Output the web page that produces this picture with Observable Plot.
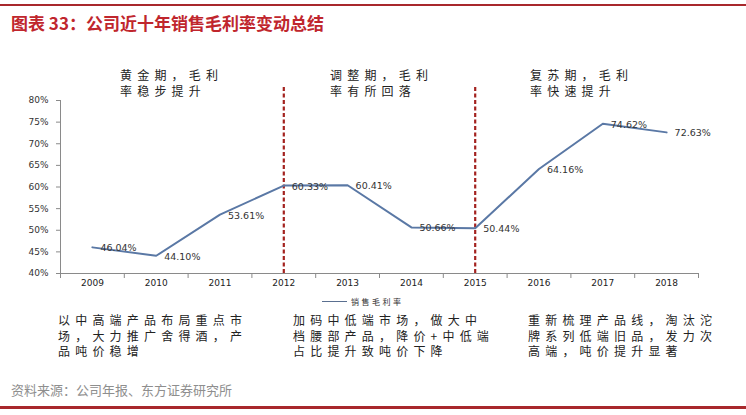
<!DOCTYPE html>
<html>
<head>
<meta charset="utf-8">
<script src="https://cdn.jsdelivr.net/npm/d3@7"></script>
<script src="https://cdn.jsdelivr.net/npm/@observablehq/plot@0.6"></script>
<style>
  html, body { margin: 0; padding: 0; background: #fff; }
  #page { position: relative; width: 746px; height: 415px; background: #fff; overflow: hidden; font-family: "Noto Sans CJK SC", "Noto Sans", sans-serif; }
  .hline { position: absolute; left: 0; width: 746px; background: #a8282c; }
  #title { position: absolute; left: 11px; top: 11px; font-size: 17px; font-weight: bold; color: #c0262d; line-height: 24px; white-space: nowrap; }
  #chart { position: absolute; left: 0; top: 60px; }
  .note { position: absolute; font-size: 12px; letter-spacing: 5.2px; line-height: 15.5px; color: #222; white-space: pre; }
  .period { position: absolute; font-size: 12px; letter-spacing: 5.2px; line-height: 16px; color: #222; white-space: pre; }
  #legend { position: absolute; left: 322px; top: 296px; font-size: 8px; letter-spacing: 2.5px; color: #333; display: flex; align-items: center; white-space: nowrap; }
  #legend .sw { display: inline-block; width: 25px; height: 1.5px; background: #5a6f90; margin-right: 4px; }
  #source { position: absolute; left: 11px; top: 381px; font-size: 13px; color: #8e8e8e; white-space: nowrap; line-height: 18px; }
</style>
</head>
<body>
<div id="page">
  <div class="hline" style="top:4px;height:2px;"></div>
  <div id="title"></div>
  <div id="chart"></div>
  <div id="legend"><span class="sw"></span><span id="legendText"></span></div>
  <div id="source"></div>
  <div class="hline" style="top:406px;height:3px;"></div>
</div>
<script>
const titleText = "图表 33：公司近十年销售毛利率变动总结";
const sourceText = "资料来源：公司年报、东方证券研究所";
const seriesName = "销售毛利率";

const years = [2009, 2010, 2011, 2012, 2013, 2014, 2015, 2016, 2017, 2018];
const grossMargin = [0.4604, 0.4410, 0.5361, 0.6033, 0.6041, 0.5066, 0.5044, 0.6416, 0.7462, 0.7263];
const marginLabels = ["46.04%", "44.10%", "53.61%", "60.33%", "60.41%", "50.66%", "50.44%", "64.16%", "74.62%", "72.63%"];
const yTicks = [0.40, 0.45, 0.50, 0.55, 0.60, 0.65, 0.70, 0.75, 0.80];
const dividerYears = [2012, 2015];

const periodTitles = ["黄金期，毛利\n率稳步提升", "调整期，毛利\n率有所回落", "复苏期，毛利\n率快速提升"];
const periodNotes = [
  "以中高端产品布局重点市\n场，大力推广舍得酒，产\n品吨价稳增",
  "加码中低端市场，做大中\n档腰部产品，降价+中低端\n占比提升致吨价下降",
  "重新梳理产品线，淘汰沱\n牌系列低端旧品，发力次\n高端，吨价提升显著"
];

document.getElementById("title").textContent = titleText;
document.getElementById("source").textContent = sourceText;
document.getElementById("legendText").textContent = seriesName;

const data = years.map((y, i) => ({year: y, rate: grossMargin[i], label: marginLabels[i]}));
const boundaries = years.map(y => y - 0.5).concat([years[years.length - 1] + 0.5]);
const xDomain = [boundaries[0], boundaries[boundaries.length - 1]];

const plot = Plot.plot({
  width: 746,
  height: 240,
  marginLeft: 60,
  marginRight: 48,
  marginTop: 40,
  marginBottom: 27,
  style: {fontFamily: "DejaVu Sans, sans-serif", fontSize: "9px", color: "#333", background: "transparent", overflow: "visible"},
  x: {type: "linear", domain: xDomain},
  y: {domain: [0.4, 0.8]},
  marks: [
    Plot.ruleY([0.4], {stroke: "#8a8a8a", strokeWidth: 1}),
    Plot.ruleX([xDomain[0]], {y1: 0.4, y2: 0.8, stroke: "#8a8a8a", strokeWidth: 1}),
    Plot.axisY({ticks: yTicks, tickFormat: d3.format(".0%"), tickSize: 4, tickPadding: 8, stroke: "#8a8a8a", fill: "#333", label: null}),
    Plot.axisX({ticks: boundaries, tickFormat: () => "", tickSize: 5, stroke: "#8a8a8a", label: null}),
    Plot.axisX({ticks: years, tickFormat: d => String(d), tickSize: 0, tickPadding: 6, fill: "#222", label: null}),
    Plot.ruleX(dividerYears, {y1: 0.4, y2: 0.83, stroke: "#a3221f", strokeWidth: 2.2, strokeDasharray: "4,2.5"}),
    Plot.line(data, {x: "year", y: "rate", stroke: "#5a78a5", strokeWidth: 2}),
    Plot.text(data, {x: "year", y: "rate", text: "label", textAnchor: "start", dx: 8, dy: 1, fontSize: 9.5, fill: "#333", fontFamily: "DejaVu Sans, sans-serif"})
  ]
});
document.getElementById("chart").appendChild(plot);

const page = document.getElementById("page");
const periodLeft = [120, 330, 530];
periodTitles.forEach((t, i) => {
  const d = document.createElement("div");
  d.className = "period";
  d.style.left = periodLeft[i] + "px";
  d.style.top = "67px";
  d.textContent = t;
  page.appendChild(d);
});
const noteLeft = [58, 293, 528];
periodNotes.forEach((t, i) => {
  const d = document.createElement("div");
  d.className = "note";
  d.style.left = noteLeft[i] + "px";
  d.style.top = "312px";
  d.textContent = t;
  page.appendChild(d);
});
</script>
</body>
</html>
